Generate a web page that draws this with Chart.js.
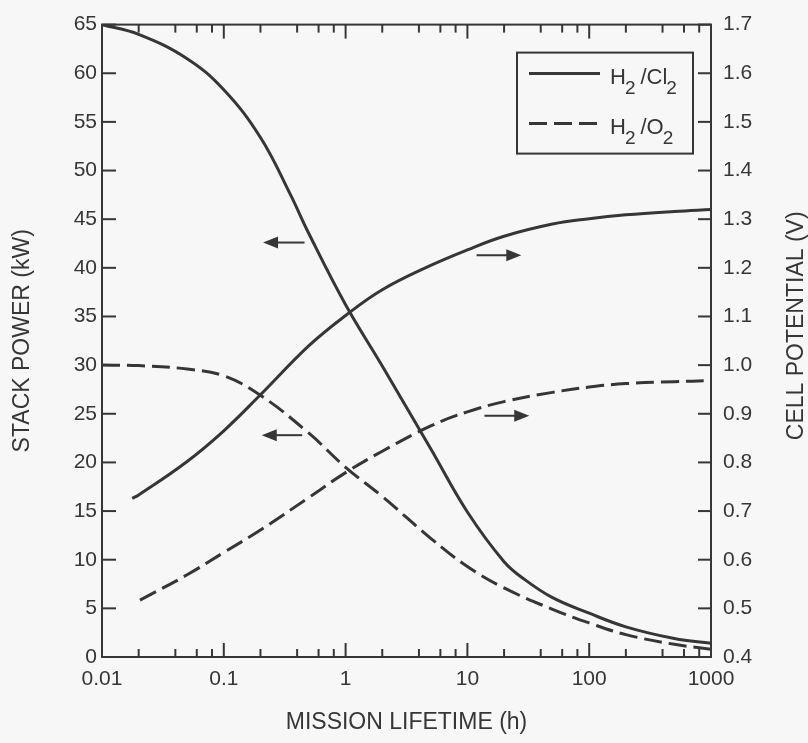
<!DOCTYPE html>
<html>
<head>
<meta charset="utf-8">
<script src="https://cdn.jsdelivr.net/npm/chart.js@4.4.0/dist/chart.umd.min.js"></script>
<style>
  html, body { margin: 0; padding: 0; background: #f7f7f7; }
  #wrap { width: 808px; height: 743px; }
</style>
</head>
<body>
<div id="wrap"><canvas id="fuelChart"></canvas></div>
<script>
// mission lifetime (h) sample points
var clPowerTime = [0.01, 0.02, 0.05, 0.1, 0.2, 0.35, 0.5, 1, 2, 5, 10, 20, 30, 50, 100, 200, 500, 1000];
var clPower     = [65, 64.0, 61.5, 58.3, 53.4, 47.6, 43.5, 36.2, 29.9, 21.4, 14.9, 9.8, 7.9, 6.1, 4.5, 3.1, 1.9, 1.4];

var o2PowerTime = [0.01, 0.02, 0.05, 0.1, 0.2, 0.5, 1, 2, 5, 10, 20, 50, 100, 200, 500, 1000];
var o2Power     = [30.0, 29.95, 29.6, 28.9, 26.9, 23.0, 19.5, 16.5, 12.2, 9.3, 7.1, 4.9, 3.5, 2.3, 1.3, 0.8];

var clPotentialTime = [0.0177, 0.02, 0.05, 0.1, 0.2, 0.5, 1, 2, 5, 10, 20, 50, 100, 200, 500, 1000];
var clPotential     = [0.726, 0.733, 0.802, 0.865, 0.939, 1.040, 1.102, 1.155, 1.205, 1.237, 1.265, 1.290, 1.301, 1.309, 1.316, 1.320];

var o2PotentialTime = [0.0205, 0.05, 0.1, 0.2, 0.5, 1, 2, 5, 10, 20, 50, 100, 200, 500, 1000];
var o2Potential     = [0.517, 0.569, 0.615, 0.661, 0.728, 0.779, 0.823, 0.875, 0.904, 0.925, 0.944, 0.955, 0.962, 0.966, 0.968];

var seriesNames = ["H2/Cl2", "H2/O2"];

// axis ticks
var xTicks = [0.01, 0.1, 1, 10, 100, 1000];
var xMinor = [2, 4, 6, 8];
var powerTicks = [0, 5, 10, 15, 20, 25, 30, 35, 40, 45, 50, 55, 60, 65];
var potentialTicks = [0.4, 0.5, 0.6, 0.7, 0.8, 0.9, 1.0, 1.1, 1.2, 1.3, 1.4, 1.5, 1.6, 1.7];

// arrows: [time, power] of tail and tip
var arrowFrom = [[0.46, 42.6], [11.9, 41.3], [0.44, 22.8], [13.8, 24.8]];
var arrowTo   = [[0.21, 42.6], [27.7, 41.3], [0.205, 22.8], [32.2, 24.8]];

var family = '"Liberation Sans", Arial, Helvetica, sans-serif';
var ink = '#363636';
var dash = [18, 7];

function pts(t, v) {
  return t.map(function (x, i) { return {x: x, y: v[i]}; });
}

// draws "H2/Cl2" with the digits as subscripts
function drawSubText(ctx, text, x, y) {
  var parts = text.match(/\d+|\D+/g);
  parts.forEach(function (p, i) {
    if (/^\d+$/.test(p)) {
      ctx.font = '19px ' + family;
      ctx.fillText(p, x - 1, y + 10);
      x += ctx.measureText(p).width + (i < parts.length - 1 ? 4 : 0);
    } else {
      ctx.font = '22px ' + family;
      ctx.fillText(p, x, y);
      x += ctx.measureText(p).width;
    }
  });
}

var framePlugin = {
  id: 'frame',
  beforeDraw: function (chart) {
    var ctx = chart.ctx;
    ctx.save();
    ctx.fillStyle = '#f7f7f7';
    ctx.fillRect(0, 0, chart.width, chart.height);
    ctx.restore();
  },
  afterDatasetsDraw: function (chart) {
    var ctx = chart.ctx, a = chart.chartArea;
    var sx = chart.scales.x, yl = chart.scales.y, yr = chart.scales.y1;
    function seg(x1, y1, x2, y2) {
      ctx.beginPath(); ctx.moveTo(x1, y1); ctx.lineTo(x2, y2); ctx.stroke();
    }
    ctx.save();
    ctx.strokeStyle = ink;
    ctx.fillStyle = ink;
    ctx.lineWidth = 2;
    ctx.strokeRect(a.left, a.top, a.right - a.left, a.bottom - a.top);

    // inward ticks, top and bottom
    xTicks.forEach(function (d, i) {
      var px = sx.getPixelForValue(d);
      seg(px, a.bottom, px, a.bottom - 14);
      seg(px, a.top, px, a.top + 14);
      if (i < xTicks.length - 1) {
        xMinor.forEach(function (m) {
          var mx = sx.getPixelForValue(d * m);
          seg(mx, a.bottom, mx, a.bottom - 8);
          seg(mx, a.top, mx, a.top + 8);
        });
      }
    });
    powerTicks.forEach(function (v) {
      var py = yl.getPixelForValue(v);
      seg(a.left, py, a.left + 14, py);
    });
    potentialTicks.forEach(function (v) {
      var py = yr.getPixelForValue(v);
      seg(a.right - 13, py, a.right, py);
    });

    // arrows pointing at the axis each curve belongs to
    arrowFrom.forEach(function (f, i) {
      var x1 = sx.getPixelForValue(f[0]), y1 = yl.getPixelForValue(f[1]);
      var x2 = sx.getPixelForValue(arrowTo[i][0]), y2 = yl.getPixelForValue(arrowTo[i][1]);
      var dir = x2 > x1 ? 1 : -1;
      seg(x1, y1, x2 - dir * 12, y2);
      ctx.beginPath();
      ctx.moveTo(x2, y2);
      ctx.lineTo(x2 - dir * 15, y2 - 6);
      ctx.lineTo(x2 - dir * 15, y2 + 6);
      ctx.closePath();
      ctx.fill();
    });

    // right axis title, reading upward like the left one
    ctx.save();
    ctx.translate(chart.width - 11, (a.top + a.bottom) / 2 - 15);
    ctx.rotate(-Math.PI / 2);
    ctx.font = '23px ' + family;
    ctx.textAlign = 'center';
    ctx.textBaseline = 'middle';
    ctx.fillText('CELL POTENTIAL (V)', 0, 0);
    ctx.restore();

    // legend
    var bx = a.right - 194, by = a.top + 28;
    ctx.strokeRect(bx, by, 176, 101);
    ctx.lineWidth = 3;
    seg(bx + 12, by + 21, bx + 83, by + 21);
    ctx.setLineDash(dash);
    seg(bx + 12, by + 71, bx + 83, by + 71);
    ctx.setLineDash([]);
    ctx.textBaseline = 'alphabetic';
    ctx.textAlign = 'left';
    drawSubText(ctx, seriesNames[0], bx + 93, by + 31);
    drawSubText(ctx, seriesNames[1], bx + 93, by + 81);
    ctx.restore();
  }
};

var tickFont = {family: family, size: 21};
var titleFont = {family: family, size: 23, lineHeight: 1};

var lineStyle = {
  borderColor: ink, borderWidth: 3, pointRadius: 0, fill: false,
  tension: 0.4, borderJoinStyle: 'round'
};

new Chart(document.getElementById('fuelChart'), {
  type: 'line',
  data: {
    datasets: [
      Object.assign({label: seriesNames[0] + ' power', data: pts(clPowerTime, clPower), yAxisID: 'y'}, lineStyle),
      Object.assign({label: seriesNames[0] + ' potential', data: pts(clPotentialTime, clPotential), yAxisID: 'y1'}, lineStyle),
      Object.assign({label: seriesNames[1] + ' power', data: pts(o2PowerTime, o2Power), yAxisID: 'y', borderDash: dash}, lineStyle),
      Object.assign({label: seriesNames[1] + ' potential', data: pts(o2PotentialTime, o2Potential), yAxisID: 'y1', borderDash: dash}, lineStyle)
    ]
  },
  options: {
    responsive: true,
    maintainAspectRatio: false,
    animation: false,
    layout: {padding: {top: 18, left: 0, right: 0, bottom: 0}},
    plugins: {legend: {display: false}, tooltip: {enabled: false}},
    scales: {
      x: {
        type: 'logarithmic', min: 0.01, max: 1000,
        afterBuildTicks: function (s) { s.ticks = xTicks.map(function (v) { return {value: v}; }); },
        afterFit: function (s) { s.height = 86; },
        grid: {display: false, drawTicks: false},
        border: {display: false},
        ticks: {
          font: tickFont, color: ink, padding: 10, maxRotation: 0, autoSkip: false,
          callback: function (v) { return String(v); }
        },
        title: {display: true, text: 'MISSION LIFETIME (h)', font: titleFont, color: ink, padding: {top: 0, bottom: 9}}
      },
      y: {
        position: 'left', min: 0, max: 65,
        afterBuildTicks: function (s) { s.ticks = powerTicks.map(function (v) { return {value: v}; }); },
        afterFit: function (s) { s.width = 102; },
        grid: {display: false, drawTicks: false},
        border: {display: false},
        ticks: {font: tickFont, color: ink, padding: 5},
        title: {display: true, text: 'STACK POWER (kW)', font: titleFont, color: ink, padding: {top: 11, bottom: 0}}
      },
      y1: {
        position: 'right', min: 0.4, max: 1.7,
        afterBuildTicks: function (s) { s.ticks = potentialTicks.map(function (v) { return {value: v}; }); },
        afterFit: function (s) { s.width = 97; },
        grid: {display: false, drawTicks: false},
        border: {display: false},
        ticks: {
          font: tickFont, color: ink, padding: 12,
          callback: function (v) { return Number(v).toFixed(1); }
        },
        title: {display: false}
      }
    }
  },
  plugins: [framePlugin]
});
</script>
</body>
</html>
